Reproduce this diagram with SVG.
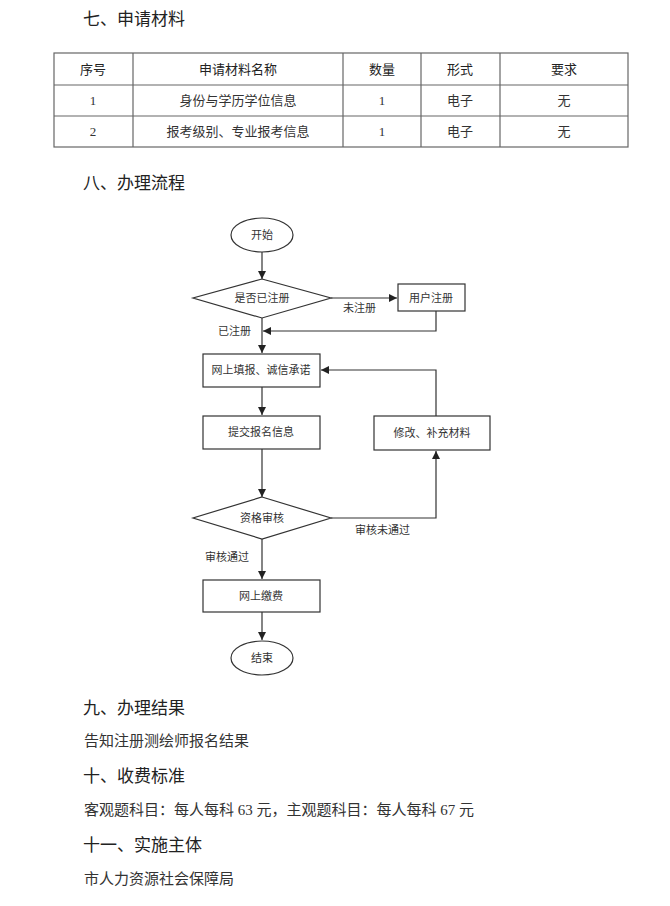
<svg xmlns="http://www.w3.org/2000/svg" width="670" height="906" viewBox="0 0 670 906">
<defs>
<marker id="arr" viewBox="0 0 10 10" refX="10" refY="5" markerWidth="8" markerHeight="8" markerUnits="userSpaceOnUse" orient="auto">
<path d="M0,0 L10,5 L0,10 z" fill="#222"/>
</marker>
<style>
.h{font-family:"Noto Sans CJK SC","Liberation Sans",sans-serif;font-size:17px;fill:#222;font-weight:400}
.b{font-family:"Liberation Serif","Noto Sans CJK SC",serif;font-size:15px;fill:#333}
.th{font-family:"Noto Sans CJK SC","Liberation Sans",sans-serif;font-size:13px;fill:#222;text-anchor:middle}
.td{font-family:"Liberation Serif","Noto Sans CJK SC",serif;font-size:13px;fill:#333;text-anchor:middle}
.grid{stroke:#666;stroke-width:1.2;fill:none}
.shape{fill:#fff;stroke:#333;stroke-width:1.2}
.t{font-family:"Liberation Serif","Noto Sans CJK SC",serif;font-size:11px;fill:#333;text-anchor:middle}
.lbl{font-family:"Liberation Serif","Noto Sans CJK SC",serif;font-size:11px;fill:#333}
.c{fill:none;stroke:#333;stroke-width:1.2}
</style>
</defs>
<rect width="670" height="906" fill="#fff"/>

<text class="h" x="83" y="25">七、申请材料</text>

<g id="table">
<rect class="grid" x="54" y="53" width="574" height="94"/>
<line class="grid" x1="54" y1="85" x2="628" y2="85"/>
<line class="grid" x1="54" y1="116" x2="628" y2="116"/>
<line class="grid" x1="133" y1="53" x2="133" y2="147"/>
<line class="grid" x1="343" y1="53" x2="343" y2="147"/>
<line class="grid" x1="421" y1="53" x2="421" y2="147"/>
<line class="grid" x1="500" y1="53" x2="500" y2="147"/>
<text class="th" x="93" y="74">序号</text>
<text class="th" x="238" y="74">申请材料名称</text>
<text class="th" x="382" y="74">数量</text>
<text class="th" x="460" y="74">形式</text>
<text class="th" x="564" y="74">要求</text>
<text class="td" x="93" y="105">1</text>
<text class="td" x="238" y="105">身份与学历学位信息</text>
<text class="td" x="382" y="105">1</text>
<text class="td" x="460" y="105">电子</text>
<text class="td" x="564" y="105">无</text>
<text class="td" x="93" y="136">2</text>
<text class="td" x="238" y="136">报考级别、专业报考信息</text>
<text class="td" x="382" y="136">1</text>
<text class="td" x="460" y="136">电子</text>
<text class="td" x="564" y="136">无</text>
</g>

<text class="h" x="83" y="189">八、办理流程</text>

<g id="connectors">
<line class="c" x1="262" y1="252" x2="262" y2="279" marker-end="url(#arr)"/>
<line class="c" x1="331" y1="298" x2="397" y2="298" marker-end="url(#arr)"/>
<polyline class="c" points="436,311 436,331 263,331" marker-end="url(#arr)"/>
<line class="c" x1="262" y1="318" x2="262" y2="353" marker-end="url(#arr)"/>
<line class="c" x1="262" y1="387" x2="262" y2="415" marker-end="url(#arr)"/>
<line class="c" x1="262" y1="449" x2="262" y2="497" marker-end="url(#arr)"/>
<polyline class="c" points="331,518 436,518 436,451" marker-end="url(#arr)"/>
<polyline class="c" points="436,416 436,370 321,370" marker-end="url(#arr)"/>
<line class="c" x1="262" y1="539" x2="262" y2="579" marker-end="url(#arr)"/>
<line class="c" x1="262" y1="612" x2="262" y2="640" marker-end="url(#arr)"/>
<text class="lbl" x="343" y="312">未注册</text>
<text class="lbl" x="218" y="335">已注册</text>
<text class="lbl" x="355" y="534">审核未通过</text>
<text class="lbl" x="205" y="561">审核通过</text>
</g>

<g id="start">
<ellipse class="shape" cx="262" cy="235" rx="31" ry="17"/>
<text class="t" x="262" y="239">开始</text>
</g>
<g id="registered">
<polygon class="shape" points="262,279 331,298 262,318 193,298"/>
<text class="t" x="262" y="302">是否已注册</text>
</g>
<g id="register">
<rect class="shape" x="398" y="284" width="67" height="27"/>
<text class="t" x="431" y="302">用户注册</text>
</g>
<g id="fill">
<rect class="shape" x="203" y="354" width="117" height="33"/>
<text class="t" x="261" y="374">网上填报、诚信承诺</text>
</g>
<g id="submit">
<rect class="shape" x="203" y="416" width="117" height="33"/>
<text class="t" x="261" y="436">提交报名信息</text>
</g>
<g id="modify">
<rect class="shape" x="374" y="416" width="116" height="34"/>
<text class="t" x="432" y="437">修改、补充材料</text>
</g>
<g id="review">
<polygon class="shape" points="262,497 331,518 262,539 193,518"/>
<text class="t" x="262" y="522">资格审核</text>
</g>
<g id="pay">
<rect class="shape" x="203" y="580" width="117" height="32"/>
<text class="t" x="261" y="600">网上缴费</text>
</g>
<g id="end">
<ellipse class="shape" cx="262" cy="658" rx="31" ry="17"/>
<text class="t" x="262" y="662">结束</text>
</g>

<text class="h" x="83" y="714">九、办理结果</text>
<text class="b" x="84" y="746">告知注册测绘师报名结果</text>
<text class="h" x="83" y="782">十、收费标准</text>
<text class="b" x="84" y="815">客观题科目：每人每科 63 元，主观题科目：每人每科 67 元</text>
<text class="h" x="83" y="851">十一、实施主体</text>
<text class="b" x="84" y="884">市人力资源社会保障局</text>
</svg>
